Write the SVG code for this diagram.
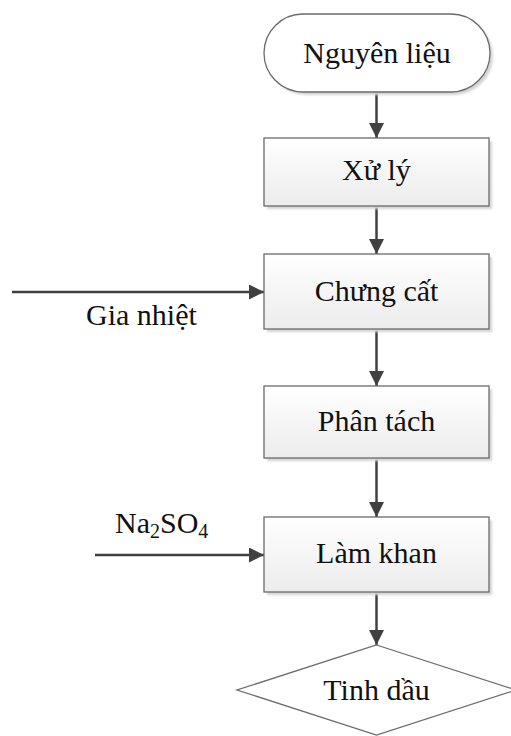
<svg xmlns="http://www.w3.org/2000/svg" width="511" height="736" viewBox="0 0 511 736">
  <style>
    .box { fill: url(#boxFill); stroke: #6b6b6b; stroke-width: 1.3; }
    .shadow { fill: #d4d4d4; filter: url(#soft); }
    .label { font-family: "Liberation Serif", "Times New Roman", serif; font-size: 30px; fill: #111; text-anchor: middle; }
    .side { font-family: "Liberation Serif", "Times New Roman", serif; font-size: 30px; fill: #111; }
    .flow { stroke: #404040; stroke-width: 2.5; fill: none; marker-end: url(#arrow); }
  </style>
  <defs>
    <linearGradient id="boxFill" x1="0" y1="0" x2="0" y2="1">
      <stop offset="0" stop-color="#ffffff"/>
      <stop offset="1" stop-color="#ececec"/>
    </linearGradient>
    <filter id="soft" x="-10%" y="-10%" width="120%" height="130%">
      <feGaussianBlur stdDeviation="1.2"/>
    </filter>
    <marker id="arrow" markerWidth="6" markerHeight="6" refX="6" refY="3" orient="auto" markerUnits="strokeWidth">
      <path d="M0,0 L6,3 L0,6 Z" fill="#404040"/>
    </marker>
  </defs>

  <!-- connectors -->
  <g id="connectors">
    <line class="flow" x1="376.5" y1="92" x2="376.5" y2="138"/>
    <line class="flow" x1="376.5" y1="206" x2="376.5" y2="254"/>
    <line class="flow" x1="376.5" y1="329" x2="376.5" y2="386"/>
    <line class="flow" x1="376.5" y1="458" x2="376.5" y2="517"/>
    <line class="flow" x1="376.5" y1="592" x2="376.5" y2="645"/>
    <line class="flow" x1="12" y1="292" x2="264" y2="292"/>
    <line class="flow" x1="95" y1="555" x2="264" y2="555"/>
  </g>

  <!-- start terminal -->
  <g id="node-nguyen-lieu">
    <rect class="shadow" x="267" y="17" width="226" height="78" rx="39"/>
    <rect x="264" y="14" width="226" height="78" rx="39" fill="#ffffff" stroke="#6b6b6b" stroke-width="1.3"/>
    <text class="label" x="377" y="63">Nguyên liệu</text>
  </g>

  <g id="node-xu-ly">
    <rect class="shadow" x="267" y="141" width="225" height="68"/>
    <rect class="box" x="264" y="138" width="225" height="68"/>
    <text class="label" x="376.5" y="180">Xử lý</text>
  </g>

  <g id="node-chung-cat">
    <rect class="shadow" x="267" y="257" width="225" height="75"/>
    <rect class="box" x="264" y="254" width="225" height="75"/>
    <text class="label" x="376.5" y="301">Chưng cất</text>
  </g>

  <g id="node-phan-tach">
    <rect class="shadow" x="267" y="389" width="225" height="72"/>
    <rect class="box" x="264" y="386" width="225" height="72"/>
    <text class="label" x="376.5" y="431">Phân tách</text>
  </g>

  <g id="node-lam-khan">
    <rect class="shadow" x="267" y="520" width="225" height="75"/>
    <rect class="box" x="264" y="517" width="225" height="75"/>
    <text class="label" x="376.5" y="563">Làm khan</text>
  </g>

  <!-- end product -->
  <g id="node-tinh-dau">
    <polygon points="376.5,645 516,690 376.5,735 237,690" fill="#ffffff" stroke="#6b6b6b" stroke-width="1.3"/>
    <text class="label" x="376.5" y="700">Tinh dầu</text>
  </g>

  <!-- side inputs -->
  <g id="label-gia-nhiet">
    <text class="side" x="86" y="325">Gia nhiệt</text>
  </g>
  <g id="label-na2so4">
    <text class="side" x="115" y="533">Na<tspan font-size="20" dy="5">2</tspan><tspan dy="-5">SO</tspan><tspan font-size="20" dy="5">4</tspan></text>
  </g>
</svg>
